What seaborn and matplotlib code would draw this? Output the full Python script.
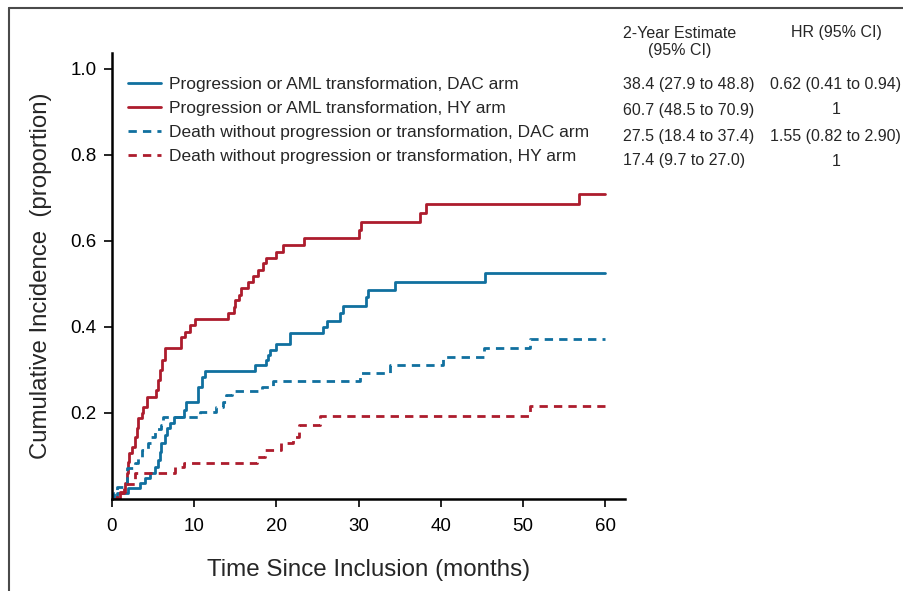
import numpy as np
import pandas as pd
import matplotlib
matplotlib.use("Agg")
import matplotlib.pyplot as plt
import seaborn as sns
from matplotlib.lines import Line2D

# step curves (time in months, cumulative incidence)
dac_prog_t = [0, 0.6, 2.0, 3.4, 4.0, 4.6, 5.2, 5.6, 5.8, 6.0, 6.4, 6.7, 7.1, 7.5, 8.8, 9.0,
              10.5, 10.9, 11.3, 17.4, 18.7, 19.0, 19.2, 19.9, 21.6, 25.7, 26.1, 27.7, 28.1,
              30.9, 31.1, 34.4, 45.4, 60]
dac_prog_v = [0, 0.015, 0.025, 0.038, 0.048, 0.06, 0.075, 0.09, 0.11, 0.13, 0.149, 0.164, 0.176,
              0.191, 0.207, 0.225, 0.261, 0.284, 0.298, 0.312, 0.323, 0.335, 0.347, 0.36, 0.385,
              0.4, 0.415, 0.432, 0.449, 0.47, 0.486, 0.504, 0.525, 0.525]

hy_prog_t = [0, 1.0, 1.6, 1.8, 1.9, 2.1, 2.4, 2.8, 3.0, 3.2, 3.6, 3.8, 4.2, 5.4, 5.6, 5.8, 6.1,
             6.4, 8.4, 8.9, 9.5, 10.1, 14.1, 14.8, 15.0, 15.4, 15.7, 16.5, 17.2, 17.7, 18.4,
             18.7, 20.0, 20.8, 23.3, 30.0, 30.3, 37.5, 38.2, 56.8, 60]
hy_prog_v = [0, 0.017, 0.038, 0.06, 0.085, 0.107, 0.122, 0.145, 0.164, 0.188, 0.2, 0.215, 0.238,
             0.253, 0.277, 0.3, 0.323, 0.35, 0.377, 0.389, 0.405, 0.418, 0.433, 0.447, 0.463,
             0.474, 0.49, 0.505, 0.519, 0.533, 0.548, 0.56, 0.575, 0.591, 0.606, 0.626, 0.643,
             0.664, 0.685, 0.709, 0.709]

dac_death_t = [0, 0.2, 0.6, 1.8, 2.8, 3.2, 3.6, 4.4, 4.8, 5.2, 6.0, 6.2, 10.7, 12.7, 13.5, 13.9,
               14.6, 18.2, 19.6, 30.2, 33.8, 40.3, 45.2, 50.9, 60]
dac_death_v = [0, 0.013, 0.029, 0.071, 0.083, 0.095, 0.114, 0.13, 0.145, 0.162, 0.172, 0.19,
               0.203, 0.213, 0.226, 0.242, 0.251, 0.261, 0.274, 0.292, 0.312, 0.33, 0.35, 0.371,
               0.371]

hy_death_t = [0, 0.6, 1.4, 2.8, 7.7, 8.7, 17.6, 18.6, 20.6, 22.0, 22.7, 25.3, 50.9, 60]
hy_death_v = [0, 0.013, 0.035, 0.06, 0.074, 0.084, 0.098, 0.114, 0.13, 0.145, 0.172, 0.193,
              0.216, 0.216]

labels = ["Progression or AML transformation, DAC arm",
          "Progression or AML transformation, HY arm",
          "Death without progression or transformation, DAC arm",
          "Death without progression or transformation, HY arm"]
est_2yr = ["38.4 (27.9 to 48.8)", "60.7 (48.5 to 70.9)", "27.5 (18.4 to 37.4)", "17.4 (9.7 to 27.0)"]
hr_ci = ["0.62 (0.41 to 0.94)", "1", "1.55 (0.82 to 2.90)", "1"]

blue = "#10709f"
red = "#ad1c2d"
colors = [blue, red, blue, red]
styles = ["-", "-", (0, (3, 2.2)), (0, (3, 2.2))]

frames = []
for lab, t, v in zip(labels, [dac_prog_t, hy_prog_t, dac_death_t, hy_death_t],
                     [dac_prog_v, hy_prog_v, dac_death_v, hy_death_v]):
    frames.append(pd.DataFrame({"time": t, "inc": v, "series": lab}))
df = pd.concat(frames, ignore_index=True)

sns.set_style("white")
plt.rcParams["font.family"] = ["Liberation Sans", "DejaVu Sans"]

fig = plt.figure(figsize=(9.04, 5.91), dpi=100)
W, H = 904, 591
ax = fig.add_axes([112 / W, 1 - 499 / H, 513 / W, 446 / H])

for lab, col, ls in zip(labels, colors, styles):
    sns.lineplot(data=df[df["series"] == lab], x="time", y="inc", ax=ax, color=col,
                 linestyle=ls, linewidth=2.0, drawstyle="steps-post", estimator=None,
                 sort=False, legend=False)

ax.set_xlim(0, 62.4)
ax.set_ylim(0, 1.037)
ax.set_xticks([0, 10, 20, 30, 40, 50, 60])
ax.set_yticks([0.2, 0.4, 0.6, 0.8, 1.0])
ax.set_yticklabels(["0.2", "0.4", "0.6", "0.8", "1.0"])
for s in ["top", "right"]:
    ax.spines[s].set_visible(False)
for s in ["left", "bottom"]:
    ax.spines[s].set_linewidth(1.8)
    ax.spines[s].set_color("black")
ax.tick_params(axis="both", direction="out", length=6, width=1.2, labelsize=13.5,
               colors="black", pad=5, left=True, bottom=True)
ax.tick_params(axis="x", pad=8)
ax.set_xlabel("Time Since Inclusion (months)", fontsize=17.4, labelpad=17)
ax.set_ylabel("Cumulative Incidence  (proportion)", fontsize=17.3, labelpad=13)

handles = [Line2D([0], [0], color=c, linestyle=s, linewidth=2.0) for c, s in zip(colors, styles)]
ax.legend(handles, labels, loc="upper left", bbox_to_anchor=(128 / W, 1 - 77 / H),
          bbox_transform=fig.transFigure, frameon=False, handlelength=1.9, handletextpad=0.46,
          labelspacing=0.5, borderpad=0, borderaxespad=0,
          prop={"size": 12.5})

tbl_size = 11.5
fig.text(680 / W, 1 - 33 / H, "2-Year Estimate", ha="center", va="center", size=tbl_size)
fig.text(680 / W, 1 - 51 / H, "(95% CI)", ha="center", va="center", size=tbl_size)
fig.text(836 / W, 1 - 33 / H, "HR (95% CI)", ha="center", va="center", size=tbl_size)
rows_y = [85, 110, 136, 161]
for y, e, h in zip(rows_y, est_2yr, hr_ci):
    fig.text(623 / W, 1 - y / H, e, ha="left", va="center", size=tbl_size)
    if h == "1":
        fig.text(836 / W, 1 - y / H, h, ha="center", va="center", size=tbl_size)
    else:
        fig.text(770 / W, 1 - y / H, h, ha="left", va="center", size=tbl_size)

# partial frame from the source figure
fig.add_artist(Line2D([9 / W, 1], [1 - 8 / H, 1 - 8 / H], transform=fig.transFigure,
                      color="#4a4a4a", linewidth=1.5))
fig.add_artist(Line2D([9 / W, 9 / W], [0, 1 - 8 / H], transform=fig.transFigure,
                      color="#4a4a4a", linewidth=1.5))

fig.savefig("out.png", dpi=100)
